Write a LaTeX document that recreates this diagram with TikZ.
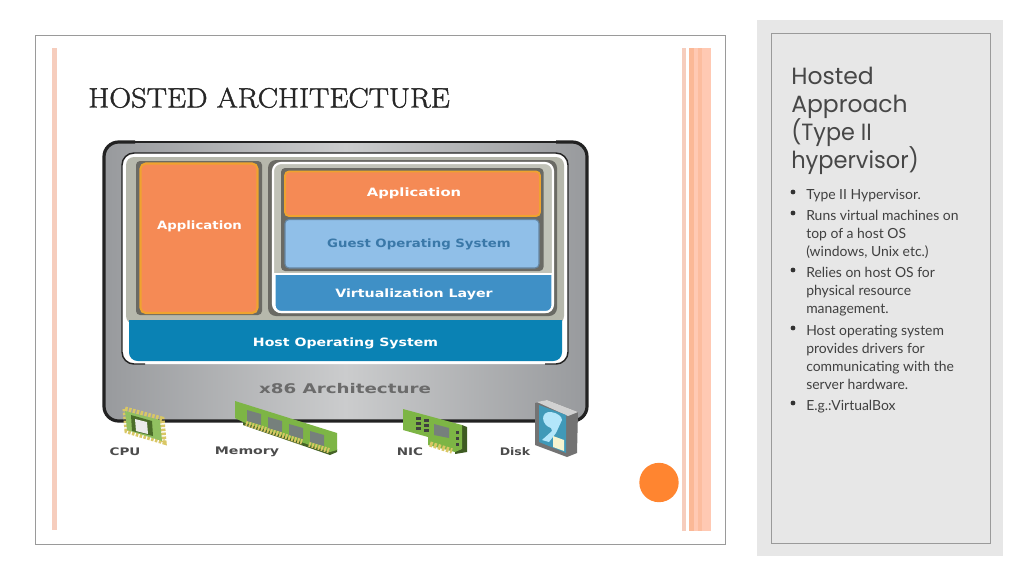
\documentclass[tikz,border=0pt]{standalone}
\usepackage{fontspec}
\setmainfont{Liberation Serif}
\newfontfamily\headfont{Poppins}
\newfontfamily\bodyfont{Lato}
\newfontfamily\labfont{DejaVu Sans}
\newfontfamily\titlefont[FakeBold=1.4]{Latin Modern Roman}
\newcommand{\widetext}[2]{\scalebox{#1}[1]{#2}}
\definecolor{orangefill}{HTML}{F58A55}
\definecolor{orangeedge}{HTML}{EFA32F}
\definecolor{hostblue}{HTML}{0A82B4}
\definecolor{virtblue}{HTML}{3F90C6}
\definecolor{guestblue}{HTML}{90BFE8}
\definecolor{guesttext}{HTML}{3A78A8}
\definecolor{slot}{HTML}{6A6A64}
\definecolor{panelgrey}{HTML}{B6B8AC}
\definecolor{darkedge}{HTML}{222222}
\definecolor{stripe}{HTML}{FFC9B3}
\definecolor{stripedark}{HTML}{FBB896}
\definecolor{leftstripe}{HTML}{F6CDBD}
\definecolor{panel}{HTML}{E7E7E7}
\definecolor{rule}{HTML}{9A9A9A}
\definecolor{chipgreen}{HTML}{7DB545}
\definecolor{pingold}{HTML}{D9C765}
\definecolor{chipgrey}{HTML}{76807C}
\definecolor{dotorange}{HTML}{FF8530}
\definecolor{chassisedge}{HTML}{989A9D}
\definecolor{chassismid}{HTML}{CBCCCD}
\tikzset{
  x=0.75pt,y=-0.75pt,
  lab/.style={font=\labfont\bfseries\fontsize{8.6pt}{10pt}\selectfont,inner sep=0pt,text=white},
  hwlab/.style={font=\labfont\bfseries\fontsize{7.8pt}{10pt}\selectfont,inner sep=0pt,text=black!70},
  headline/.style={anchor=base west,inner sep=0pt,text=black!72,font=\headfont\fontsize{17.6pt}{22pt}\selectfont},
  bodyline/.style={anchor=base west,inner sep=0pt,text=black!75,font=\bodyfont\fontsize{10.45pt}{12pt}\selectfont},
  bulletdot/.style={circle,fill=black!80,inner sep=0pt,minimum size=3.6pt},
  pins/.style={draw=pingold,line width=3.8pt,dash pattern=on 1.9pt off 1.1pt},
}
\begin{document}
\begin{tikzpicture}
\useasboundingbox (0,0) rectangle (1024,576);
\fill[white] (0,0) rectangle (1024,576);
% slide frame
\draw[rule,line width=0.7pt] (35,35) rectangle (725,544);
\fill[leftstripe] (52,48) rectangle (56.5,530);
\fill[leftstripe] (682,48) rectangle (685.5,531);
\fill[stripedark] (689,48) rectangle (694,531);
\fill[stripe] (694,48) rectangle (711,531);
\fill[stripedark!70!stripe] (698,48) rectangle (702,531);
\node[circle,fill=dotorange,minimum size=29.5pt,inner sep=0pt] (dot) at (659,482.5) {};
% title
\node[anchor=base west,inner sep=0pt,text=black!85,font=\titlefont\fontsize{21pt}{24pt}\selectfont] (title) at (88,107.5) {\widetext{1.085}{HOSTED ARCHITECTURE}};
% right panel
\fill[panel] (757,20) rectangle (1003,556);
\draw[rule,line width=0.7pt] (771,33) rectangle (990,543);
\node[headline] (h1) at (791,84) {Hosted};
\node[headline] (h2) at (791,112) {Approach};
\node[headline] (h3) at (791,140) {\widetext{0.95}{(Type II}};
\node[headline] (h4) at (791,168) {\widetext{0.96}{hypervisor)}};
\foreach \n/\yy/\txt in {a/199/{Type II Hypervisor.},b/220/{Runs virtual machines on},c/238/{top of a host OS},d/256/{(windows, Unix etc.)},e/277/{Relies on host OS for},f/295/{physical resource},g/313/{management.},h/335/{Host operating system},i/353/{provides drivers for},j/371/{communicating with the},k/389/{server hardware.},l/410/{E.g.:VirtualBox}}
  \node[bodyline] (line\n) at (806,\yy) {\txt};
\foreach \n/\yy in {a/192,b/213,e/270,h/328,l/403}
  \node[bulletdot] (bul\n) at (793,\yy) {};
% chassis
\shade[left color=chassisedge,right color=chassisedge,middle color=chassismid,rounded corners=11pt,draw=darkedge,line width=1.2pt] (104,142) rectangle (587,421);
\draw[darkedge,line width=2.4pt,rounded corners=11pt] (135,142) -- (104,142) -- (104,421) -- (587,421) -- (587,142) -- (556,142);
% inner frame
\fill[white,rounded corners=9pt] (122,153) rectangle (568,364);
\draw[darkedge,line width=1.1pt,rounded corners=9pt] (145,364) -- (122,364) -- (122,153) -- (568,153) -- (568,364) -- (545,364);
\fill[panelgrey,rounded corners=6pt] (126,157) rectangle (564,324);
% host OS
\begin{scope}
  \clip (129,320.5) rectangle (562,362);
  \fill[hostblue,rounded corners=6.5pt] (129,300) rectangle (562,361);
\end{scope}
\node[lab] (host) at (345.5,343) {\widetext{1.23}{Host Operating System}};
% left application
\fill[slot,rounded corners=3pt] (136,161) rectangle (262,315);
\draw[orangeedge,fill=orangefill,line width=1.6pt,rounded corners=4pt] (140.5,163.5) rectangle (257.5,313);
\node[lab] (app1) at (199.5,226) {\widetext{1.16}{Application}};
% right stack
\fill[slot,rounded corners=6pt] (268,160) rectangle (557,316);
\draw[white,line width=1.6pt,fill=panelgrey!85!white,rounded corners=6pt] (273,163) rectangle (553,312);
\fill[slot,rounded corners=3pt] (281,168) rectangle (543.5,271);
\draw[orangeedge,fill=orangefill,line width=1.4pt,rounded corners=3pt] (285,171.5) rectangle (540,216);
\node[lab] (app2) at (414,193) {\widetext{1.29}{Application}};
\draw[guestblue!70!black,fill=guestblue,line width=.8pt,rounded corners=3pt] (285,219.5) rectangle (539,268);
\node[lab,text=guesttext] (guest) at (419,244) {\widetext{1.16}{Guest Operating System}};
\begin{scope}
  \clip (272,273) rectangle (555,315);
  \draw[white,line width=1.6pt,fill=virtblue,rounded corners=5pt] (274.5,260) rectangle (552.5,312);
  \draw[white,line width=1.6pt] (274,273.5) -- (553,273.5);
\end{scope}
\node[lab] (virt) at (414,294) {\widetext{1.24}{Virtualization Layer}};
% architecture label
\node[lab,text=black!58,font=\labfont\bfseries\fontsize{10pt}{12pt}\selectfont] (arch) at (345,389) {\widetext{1.37}{x86 Architecture}};
% CPU
\draw[pins] (125,409) -- (162,419) -- (164,442) -- (127,431) -- cycle;
\fill[chipgreen!85!white] (125,411) -- (160,420) -- (162,441) -- (127,430) -- cycle;
\fill[chipgreen!60!black] (131,415) -- (152,421) -- (153,436) -- (132,431) -- cycle;
\fill[black!8] (135,419) -- (147,422) -- (148,434) -- (136,431) -- cycle;
% Memory
\fill[chipgreen!55!black] (243,421) -- (337,449) -- (337,452) -- (330,455) -- (243,425) -- cycle;
\fill[chipgreen] (235,401) -- (337,433) -- (337,450) -- (330,452) -- (243,422) -- (235,418) -- cycle;
\draw[draw=pingold,line width=4pt,dash pattern=on 1.4pt off 1pt] (246,423) -- (302,442);
\draw[draw=pingold,line width=4pt,dash pattern=on 1.4pt off 1pt] (309,444) -- (330,451);
\fill[chipgrey] (247,410) -- (261,414) -- (261,425) -- (247,421) -- cycle;
\fill[chipgrey] (268,417) -- (282,421) -- (282,432) -- (268,428) -- cycle;
\fill[chipgrey] (289,424) -- (303,428) -- (303,439) -- (289,435) -- cycle;
\fill[chipgrey] (310,431) -- (324,435) -- (324,446) -- (310,442) -- cycle;
% NIC
\fill[chipgreen!50!black] (462,425) -- (467,427) -- (467,452) -- (455,454) -- (455,450) -- (462,449) -- cycle;
\fill[chipgreen] (403,409) -- (462,425) -- (462,449) -- (455,452) -- (428,445) -- (428,437) -- (403,430) -- cycle;
\draw[draw=pingold,line width=4pt,dash pattern=on 2pt off 1.2pt] (430,444) -- (452,451);
\fill[chipgrey] (434,424) -- (449,428) -- (449,438) -- (434,435) -- cycle;
\foreach \a in {0,1,2} {
  \fill[black!75] (416,{417+5*\a}) rectangle +(5,3);
  \fill[black!75] (424,{419+5*\a}) rectangle +(5,3);
  \fill[black!75] (456,{431+6*\a}) rectangle +(3,3);
}
% Disk
\fill[black!55] (535,403) -- (547,400) -- (578,412) -- (577,453) -- (567,457) -- (535,445) -- cycle;
\fill[black!18] (537,402) -- (547,400) -- (578,412) -- (568,416) -- cycle;
\fill[black!20!blue!30!cyan!50!gray] (539,405) -- (566,415) -- (566,453) -- (539,442) -- cycle;
\fill[white!70!cyan] (551,412) .. controls (540,411) and (541,425) .. (551,428) -- (552,431) -- (542,440) -- (549,442) -- (556,433) -- (562,420) .. controls (562,416) and (557,413) .. (551,412) -- cycle;
\fill[black!20!yellow!20!white] (553,436) -- (564,440) -- (564,451) -- (553,447) -- cycle;
% hardware labels
\node[hwlab] (cpu) at (125,452) {\widetext{1.3}{CPU}};
\node[hwlab] (mem) at (247,452) {\widetext{1.36}{Memory}};
\node[hwlab] (nic) at (410,452) {\widetext{1.3}{NIC}};
\node[hwlab] (disk) at (515,452) {\widetext{1.2}{Disk}};
\end{tikzpicture}
\end{document}
